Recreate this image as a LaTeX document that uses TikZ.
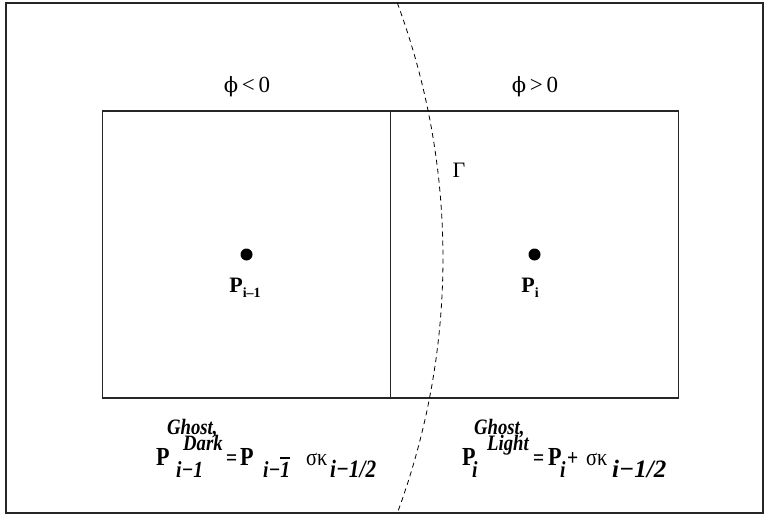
\documentclass[tikz,border=0pt]{standalone}
\usepackage{fontspec}
\usepackage{graphicx}
\setmainfont{Liberation Serif}
\newfontfamily\dvs{DejaVu Serif}
\usetikzlibrary{calc}
\newcommand\fsz[1]{\fontsize{#1}{#1}\selectfont}
\newcommand\cxx[1]{\scalebox{0.85}[1]{#1}}
\begin{document}
\begin{tikzpicture}[x=1pt,y=-1pt,
  frame/.style={draw=black!85,line width=1.2pt},
  cell/.style={draw=black!85,line width=1.3pt,inner sep=0pt,outer sep=0pt},
  dot/.style={circle,fill=black,inner sep=0pt,minimum size=12pt},
  lbl/.style={inner sep=0pt,anchor=base,font=\fsz{23}},
  plbl/.style={inner sep=0pt,anchor=base,font=\fsz{22}\bfseries},
  fb/.style={inner sep=0pt,anchor=base west,font=\fsz{26}\bfseries},
  feq/.style={inner sep=0pt,anchor=base west,font=\fsz{23}\bfseries},
  fbi/.style={inner sep=0pt,anchor=base west,font=\fsz{22}\bfseries\itshape},
  fbs/.style={inner sep=0pt,anchor=base west,font=\fsz{23}\bfseries\itshape},
  fbk/.style={inner sep=0pt,anchor=base west,font=\fsz{25}\bfseries\itshape},
  fr/.style={inner sep=0pt,anchor=base west,font=\fsz{24}},
  iface/.style={line width=0.8pt,dash pattern=on 5pt off 4pt}]
\useasboundingbox (0,0) rectangle (765,516);
\draw[frame] (6,3) rectangle (763,513);
% cells
\node[cell,minimum width=288pt,minimum height=287pt] (cl) at (246.5,254.5) {};
\node[cell,minimum width=288pt,minimum height=287pt] (cr) at (534.5,254.5) {};
% interface
\draw[iface,domain=-20.3:20.3,samples=80] plot ({-292.3+735.3*cos(\x)},{258+735.3*sin(\x)});
% region labels
\node[lbl] (neg) at (247,93) {{\dvs\fsz{21}ϕ}\,<\,0};
\node[lbl] (pos) at (535,93) {{\dvs\fsz{21}ϕ}\,>\,0};
\node[inner sep=0pt,anchor=base,font=\fsz{22}] (gam) at (459,177) {Γ};
% points
\node[dot] (pl) at (246.5,254.5) {};
\node[dot] (pr) at (534.5,254.5) {};
\node[plbl] (lpl) at (245,292) {P\raisebox{-5pt}{\fsz{14}i–1}};
\node[plbl] (lpr) at (530,292) {P\raisebox{-5pt}{\fsz{14}i}};
% left formula
\node[fb] (l1) at (156,465) {\cxx{P}};
\node[fbi] (l2) at (167,434) {\cxx{Ghost,}};
\node[fbi] (l3) at (183,450) {\cxx{Dark}};
\node[fbs] (l4) at (176,477) {\cxx{i−1}};
\node[feq] (l5) at (226,465) {\cxx{=}};
\node[fb] (l6) at (240,465) {\cxx{P}};
\node[fbs] (l7) at (263,477) {\cxx{i−1}};
\draw[line width=1.8pt] ($(l7.base east)+(-10,-19)$) -- ($(l7.base east)+(0,-19)$);
\node[fr] (l8) at (306,465) {\cxx{σκ}};
\node[fbk] (l9) at (330,477) {\cxx{i−1/2}};
% right formula
\node[fb] (r1) at (462,465) {\cxx{P}};
\node[fbi] (r2) at (474,434) {\cxx{Ghost,}};
\node[fbi] (r3) at (487,450) {\cxx{Light}};
\node[fbs] (r4) at (472,477) {\cxx{i}};
\node[feq] (r5) at (533,465) {\cxx{=}};
\node[fb] (r6) at (548,465) {\cxx{P}};
\node[fbs] (r7) at (560,477) {\cxx{i}};
\node[feq] (r8) at (567,465) {\cxx{+}};
\node[fr] (r9) at (586,465) {\cxx{σκ}};
\node[fbk] (r10) at (612,477) {i−1/2};
\end{tikzpicture}
\end{document}
